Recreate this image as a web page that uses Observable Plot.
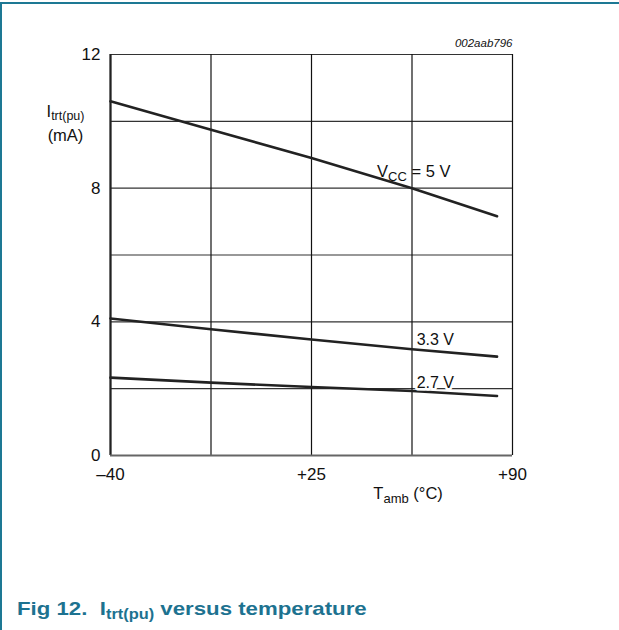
<!DOCTYPE html>
<html>
<head>
<meta charset="utf-8">
<script src="https://cdn.jsdelivr.net/npm/d3@7"></script>
<script src="https://cdn.jsdelivr.net/npm/@observablehq/plot@0.6"></script>
<style>
  body { margin: 0; background: white; }
  #wrap { position: relative; width: 619px; height: 630px; overflow: hidden; font-family: "Liberation Sans", Arial, sans-serif; }
  #topline { position: absolute; left: 0; top: 2px; width: 619px; height: 2px; background: #1d7894; }
  #leftline { position: absolute; left: 0; top: 2px; width: 2px; height: 628px; background: #1d7894; }
  #caption { position: absolute; left: 17px; top: 598px; font-weight: bold; font-size: 19px; line-height: normal; color: #1d7290; white-space: pre; transform: scaleX(1.17); transform-origin: left top; }
  #caption sub { font-size: 14px; vertical-align: -4px; line-height: 0; }
  svg { position: absolute; left: 0; top: 0; }
</style>
</head>
<body>
<div id="wrap">
  <div id="chart"></div>
  <div id="topline"></div>
  <div id="leftline"></div>
  <div id="caption">Fig 12.  I<sub>trt(pu)</sub> versus temperature</div>
</div>
<script>
// Data
const temps = [-40, -7.5, 25, 57.5, 85];
const i5v0  = [10.6, 9.75, 8.9, 8.0, 7.16];
const i3v3  = [4.1, 3.78, 3.47, 3.18, 2.96];
const i2v7  = [2.33, 2.18, 2.05, 1.93, 1.78];
const seriesNames = ["5 V", "3.3 V", "2.7 V"];

const xGrid = [-40, -7.5, 25, 57.5, 90];
const yGrid = [0, 2, 4, 6, 8, 10, 12];
const xTicks = [-40, 25, 90];
const xTickLabels = ["\u201340", "+25", "+90"];
const yTicks = [0, 4, 8, 12];

const rows = [];
[i5v0, i3v3, i2v7].forEach((vals, s) => {
  temps.forEach((t, i) => rows.push({series: seriesNames[s], t, v: vals[i]}));
});

const font = "'Liberation Sans', Arial, sans-serif";

const plot = Plot.plot({
  width: 619,
  height: 630,
  marginLeft: 110,
  marginRight: 107,
  marginTop: 54,
  marginBottom: 175,
  style: {fontFamily: font, fontSize: "16px", background: "white", color: "#111"},
  x: {domain: [-40, 90]},
  y: {domain: [0, 12]},
  marks: [
    Plot.ruleY(yGrid, {y: d => d, stroke: "#333", strokeWidth: 1.2}),
    Plot.ruleX(xGrid, {x: d => d, stroke: "#111", strokeWidth: 1.2}),
    Plot.ruleX([xGrid[0]], {x: d => d, stroke: "#222", strokeWidth: 2.2}),
    Plot.ruleY([yGrid[0]], {y: d => d, stroke: "#666", strokeWidth: 2}),
    Plot.axisX({ticks: xTicks, tickFormat: d => xTickLabels[xTicks.indexOf(d)], tickSize: 0, tickPadding: 12, fontSize: 17, label: null}),
    Plot.axisY({ticks: yTicks, tickSize: 0, tickPadding: 10, fontSize: 17, label: null}),
    Plot.line(rows, {x: "t", y: "v", z: "series", stroke: "#222", strokeWidth: 2.6}),
    Plot.text(["VCC = 5 V"], {x: 46.2, y: 8.32, text: d => d, textAnchor: "start", lineAnchor: "bottom", fontSize: 16.5, className: "lbl-vcc"}),
    Plot.text(["3.3 V"], {x: 59, y: 3.31, text: d => d, textAnchor: "start", lineAnchor: "bottom", fontSize: 16}),
    Plot.text(["2.7 V"], {x: 59, y: 2.01, text: d => d, textAnchor: "start", lineAnchor: "bottom", fontSize: 16, stroke: "white", strokeWidth: 5, fill: "#111"}),
    Plot.text(["002aab796"], {x: 90, y: 12.22, text: d => d, textAnchor: "end", lineAnchor: "bottom", fontSize: 11.5, fontStyle: "italic"}),
    Plot.text(["Itrt(pu)"], {frameAnchor: "left", y: 10.12, dx: -45, text: d => d, textAnchor: "middle", lineAnchor: "bottom", fontSize: 16.5, className: "lbl-y"}),
    Plot.text(["(mA)"], {frameAnchor: "left", y: 9.42, dx: -45, text: d => d, textAnchor: "middle", lineAnchor: "bottom", fontSize: 16.5}),
    Plot.text(["Tamb (\u00B0C)"], {x: 45, frameAnchor: "bottom", dy: 43, text: d => d, textAnchor: "start", lineAnchor: "bottom", fontSize: 16.5, className: "lbl-x"})
  ]
});

function subscriptify(cls, parts, subSize, mainSize, shift) {
  plot.querySelectorAll("g." + cls + " text").forEach(el => {
    el.textContent = "";
    let prevSub = false;
    parts.forEach(([txt, isSub]) => {
      const ts = document.createElementNS("http://www.w3.org/2000/svg", "tspan");
      ts.textContent = txt;
      ts.setAttribute("font-size", isSub ? subSize : mainSize);
      if (isSub && !prevSub) ts.setAttribute("dy", String(shift));
      if (!isSub && prevSub) ts.setAttribute("dy", String(-shift));
      prevSub = isSub;
      el.appendChild(ts);
    });
  });
}
subscriptify("lbl-vcc", [["V", false], ["CC", true], [" = 5 V", false]], 13, 16.5, 4);
subscriptify("lbl-y", [["I", false], ["trt(pu)", true]], 12.5, 16.5, 3);
subscriptify("lbl-x", [["T", false], ["amb", true], [" (\u00B0C)", false]], 13, 16.5, 4);

document.getElementById("chart").appendChild(plot);
</script>
</body>
</html>
